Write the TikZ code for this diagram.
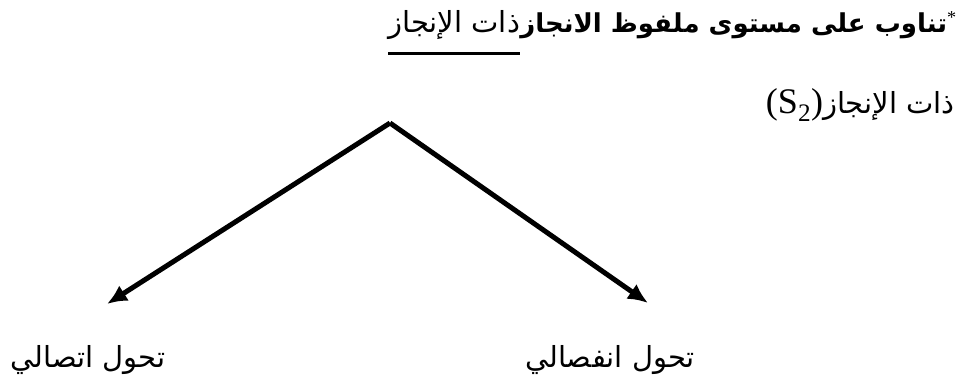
\documentclass[tikz,border=0pt]{standalone}
\usepackage{fontspec}
\usepackage{tikz}
\usetikzlibrary{arrows.meta,positioning}
\setmainfont{Liberation Serif}
\newfontfamily\arabicfont[Script=Arabic]{DejaVu Sans}
\TeXXeTstate=1

\begin{document}
\begin{tikzpicture}[x = 1pt, y = -1pt, >={Latex[length=20pt,width=18pt]}]
    \tikzstyle{label} = [inner sep = 0pt, font = \arabicfont\fontsize{29}{34}\selectfont]
    \tikzstyle{branch} = [->, line width = 5pt]

    \useasboundingbox (0,0) rectangle (961,386);

    % title line
    \node[label, anchor = east, font = \arabicfont\fontsize{26}{30}\selectfont] (title) at (957,25)
        {\beginR\textsuperscript{\fontspec{Liberation Serif}*}\bfseries تناوب على مستوى ملفوظ الانجاز\endR};
    \node[label, anchor = east] (titlesub) [left = 0pt of title]
        {\beginR ذات الإنجاز\endR};
    \draw[line width = 3pt] ([yshift = -14pt] titlesub.south west) -- ([yshift = -14pt] titlesub.south east);

    % second line
    \node[label, anchor = east] (actor) at (955,105)
        {\beginR ذات الإنجاز\beginL\fontspec{Liberation Serif}\fontsize{36}{40}\selectfont(S\textsubscript{2})\endL\endR};

    % tree
    \coordinate (top) at (390,123);
    \coordinate (lefttip) at (107,304);
    \coordinate (righttip) at (648,303);
    \node[label] (conj) at (88,360) {\beginR تحول اتصالي\endR};
    \node[label] (disj) at (610,360) {\beginR تحول انفصالي\endR};

    \draw[branch] (top) -- (lefttip);
    \draw[branch] (top) -- (righttip);
\end{tikzpicture}
\end{document}
